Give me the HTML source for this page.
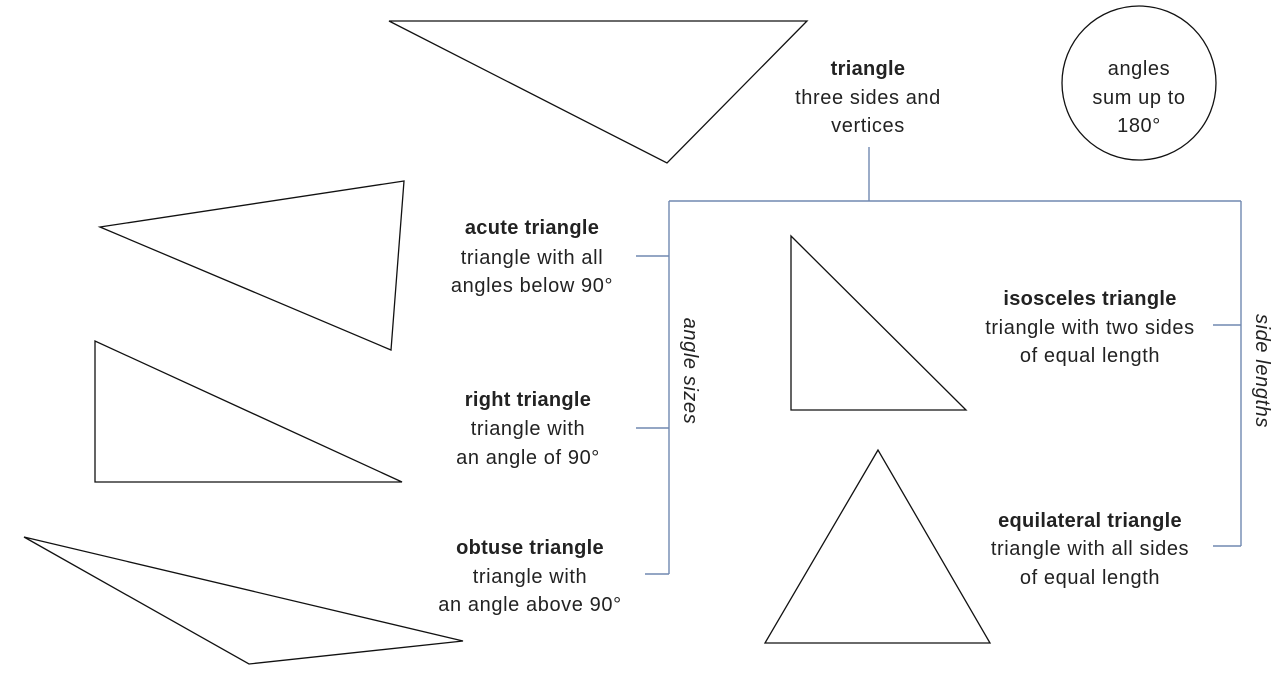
<!DOCTYPE html>
<html><head><meta charset="utf-8"><style>
html,body{margin:0;padding:0;background:#fff;}
svg{display:block;}
text{font-family:"Liberation Sans",sans-serif;font-size:20px;letter-spacing:0.6px;fill:#222;text-anchor:middle;}
.b{font-weight:bold;letter-spacing:0.3px;}
.i{font-style:italic;}
</style></head><body>
<svg width="1280" height="689" viewBox="0 0 1280 689" xmlns="http://www.w3.org/2000/svg">
<g fill="none" stroke="#111" stroke-width="1.3">
<polygon points="389,21 807,21 667,163"/>
<polygon points="100,227 404,181 391,350"/>
<polygon points="95,341 95,482 402,482"/>
<polygon points="24,537 463,641 249,664"/>
<polygon points="791,236 791,410 966,410"/>
<polygon points="878,450 765,643 990,643"/>
<circle cx="1139" cy="83" r="77"/>
</g>
<g fill="none" stroke="#7088b0" stroke-width="1.4">
<line x1="869" y1="147" x2="869" y2="201"/>
<line x1="669" y1="201" x2="1241" y2="201"/>
<line x1="669" y1="201" x2="669" y2="574"/>
<line x1="636" y1="256" x2="669" y2="256"/>
<line x1="636" y1="428" x2="669" y2="428"/>
<line x1="645" y1="574" x2="669" y2="574"/>
<line x1="1241" y1="201" x2="1241" y2="546"/>
<line x1="1213" y1="325" x2="1241" y2="325"/>
<line x1="1213" y1="546" x2="1241" y2="546"/>
</g>
<text x="868" y="75" class="b">triangle</text>
<text x="868" y="104">three sides and</text>
<text x="868" y="132">vertices</text>
<text x="1139" y="75">angles</text>
<text x="1139" y="104">sum up to</text>
<text x="1139" y="132">180°</text>
<text x="532" y="234" class="b">acute triangle</text>
<text x="532" y="264">triangle with all</text>
<text x="532" y="292">angles below 90°</text>
<text x="528" y="406" class="b">right triangle</text>
<text x="528" y="435">triangle with</text>
<text x="528" y="464">an angle of 90°</text>
<text x="530" y="554" class="b">obtuse triangle</text>
<text x="530" y="583">triangle with</text>
<text x="530" y="611">an angle above 90°</text>
<text x="1090" y="305" class="b">isosceles triangle</text>
<text x="1090" y="334">triangle with two sides</text>
<text x="1090" y="362">of equal length</text>
<text x="1090" y="527" class="b">equilateral  triangle</text>
<text x="1090" y="555">triangle with all sides</text>
<text x="1090" y="584">of equal length</text>
<text class="i" transform="translate(684,371) rotate(90)">angle sizes</text>
<text class="i" transform="translate(1256,371) rotate(90)">side lengths</text>
</svg>
</body></html>
